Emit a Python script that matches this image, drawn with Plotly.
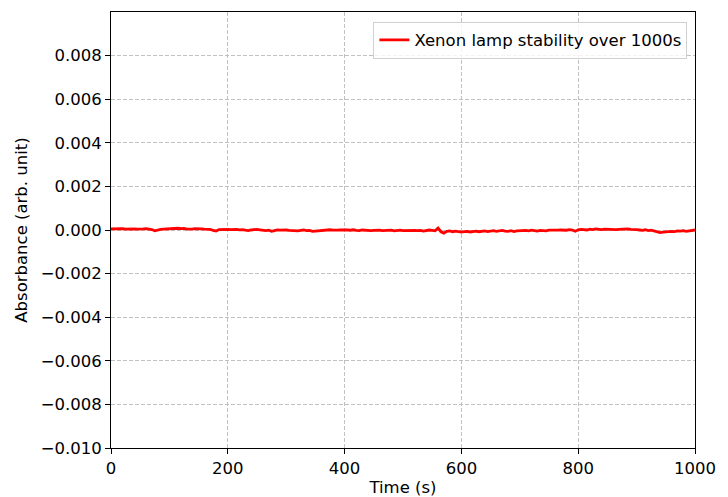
import numpy as np
import plotly.graph_objects as go

# time in seconds, absorbance in units of 1e-5
time_s = list(range(0, 1001, 5))
absorbance_e5 = [
    5, 6, 5, 7, 6, 4, 5, 6, 5, 4, 3, 5, 6, 5, 2, -4, 1, 3, 4, 5,
    6, 7, 5, 8, 6, 7, 4, 3, 5, 6, 7, 5, 4, 5, 3, -2, -5, 2, 3, 4,
    3, 2, 4, 3, 1, 2, -1, -3, 0, 2, 3, 1, -2, -3, -1, -6, -3, 0, -1, 1,
    0, -2, -3, -1, -4, -2, 0, -3, -2, -6, -5, -3, -1, -2, 0, 1, -1, -2, 0, 1,
    2, 0, -1, 1, -2, -3, 0, -2, -1, -3, -2, 0, -1, -3, -2, 0, -1, -4, -2, -1,
    -3, -2, -4, -1, -2, -3, -2, -5, -3, 0, -2, -4, 9, -8, -14, -6, -4, -8, -5, -7,
    -10, -8, -6, -9, -7, -5, -8, -6, -4, -7, -5, -3, -6, -4, -2, -5, -6, -3, -7, -4,
    -3, -5, -2, -4, -1, -3, -5, -2, -3, -4, -1, -2, -3, -1, 0, -2, -1, 2, 0, -6,
    1, 3, 2, 0, 4, 2, 5, 3, 2, 4, 3, 5, 4, 2, 3, 4, 6, 5, 3, 4,
    2, 0, -2, 1, -3, -1, -4, -6, -12, -10, -8, -9, -6, -7, -4, -5, -3, -6, -4, -2,
    0,
]
absorbance = [v * 1e-5 for v in absorbance_e5]

x_ticks = [0, 200, 400, 600, 800, 1000]
y_ticks = [-0.010, -0.008, -0.006, -0.004, -0.002, 0.000, 0.002, 0.004, 0.006, 0.008]
y_ticktext = [("%.3f" % v).replace("-", "\u2212") for v in y_ticks]
y_ticktext = ["0.000" if t == "\u22120.000" else t for t in y_ticktext]

font = "DejaVu Sans"
fs = 16.5

fig = go.Figure()
fig.add_trace(go.Scatter(
    x=time_s, y=absorbance, mode="lines",
    line=dict(color="#ff0000", width=2.8),
    name="Xenon lamp stability over 1000s",
))

axis_common = dict(
    showline=True, mirror=True, linecolor="black", linewidth=1,
    ticks="outside", ticklen=5, tickcolor="black", tickwidth=1,
    showgrid=True, gridcolor="#c0c0c0", griddash="4px,2px", gridwidth=1,
    zeroline=False, automargin=False,
    tickfont=dict(family=font, size=fs, color="black"),
)

fig.update_layout(
    width=728, height=497,
    margin=dict(l=111, r=33, t=12, b=49),
    paper_bgcolor="white", plot_bgcolor="white",
    font=dict(family=font, size=fs, color="black"),
    xaxis=dict(range=[0, 1000], tickvals=x_ticks, ticktext=[str(v) for v in x_ticks],
               title=dict(text="Time (s)", font=dict(family=font, size=fs), standoff=4),
               **axis_common),
    yaxis=dict(range=[-0.010, 0.010], tickvals=y_ticks, ticktext=y_ticktext,
               title=dict(text="Absorbance (arb. unit)", font=dict(family=font, size=fs), standoff=8),
               **axis_common),
    legend=dict(x=0.987, y=0.978, xanchor="right", yanchor="top",
                bgcolor="rgba(255,255,255,0.8)", bordercolor="#d0d0d0", borderwidth=1,
                font=dict(family=font, size=fs)),
    showlegend=True,
)

fig.write_html("out.html")
